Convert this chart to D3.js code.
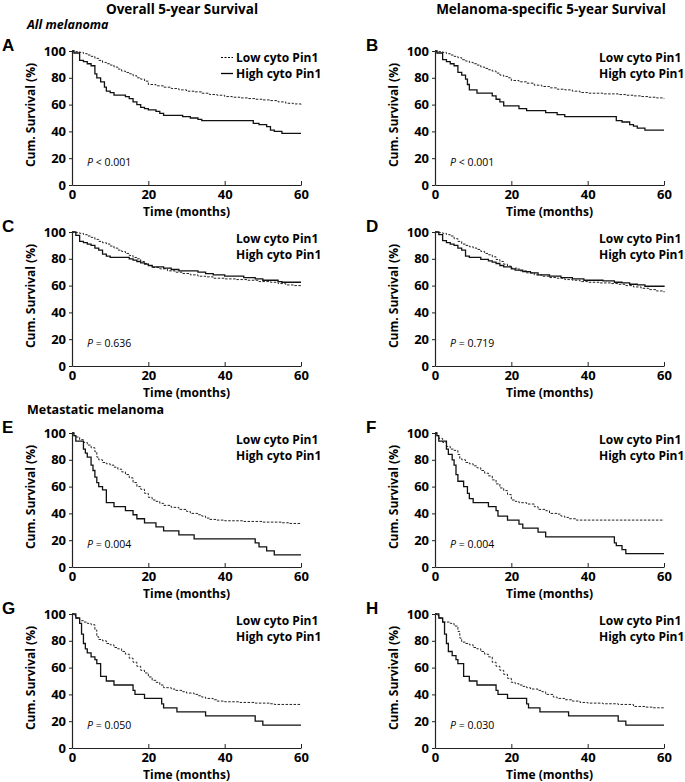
<!DOCTYPE html>
<html>
<head>
<meta charset="utf-8">
<script src="https://cdn.jsdelivr.net/npm/d3@7"></script>
<style>
  body { margin: 0; background: #fff; }
  svg text { font-family: "Open Sans", sans-serif; fill: #000; }
</style>
</head>
<body>
<script>
// axis ticks
const timeTicks = [0, 20, 40, 60];
const survTicks = [0, 20, 40, 60, 80, 100];

const panelLetters = ["A", "B", "C", "D", "E", "F", "G", "H"];
const pLabels = ["< 0.001", "< 0.001", "= 0.636", "= 0.719", "= 0.004", "= 0.004", "= 0.050", "= 0.030"];
const legendLabels = ["Low cyto Pin1", "High cyto Pin1"];
const columnTitles = ["Overall 5-year Survival", "Melanoma-specific 5-year Survival"];

// Kaplan-Meier steps: [time (months), cumulative survival (%)]
const lowA = [[0,100],[1,99.5],[2,99],[3,98],[4,97],[5,96],[6,94.5],[7,93],[8,91.5],[9,90.5],[10,89.5],[11,88],[12,86.5],[13,85],[14,84],[15,83],[16,81.5],[17,80],[18,79],[19,77.5],[20,75],[22,74],[24,73],[26,72],[28,71],[30,70],[32,69.5],[34,68.5],[36,67.5],[38,67],[40,66],[42,65.5],[44,65],[46,64.5],[48,64],[50,63.5],[52,63],[54,62],[56,61],[58,60.5],[60,60]];
const highA = [[0,100],[0.5,98.5],[2,93],[3,92],[4,90.5],[5,89],[6,83],[6.5,80],[7.5,77],[8.5,73],[9,70],[10,69],[11,67],[14,66],[15,64.5],[16,62],[17,60],[18,58],[19,57],[20,56],[22,55],[23,53.5],[24,52],[29,51],[31,50],[33,49],[34,48],[47,48],[47.5,46],[49,45],[51,43.5],[52,41],[53,40],[55,38.5],[60,38.5]];

const lowB = [[0,100],[1,99.5],[2,99],[3,98],[4,97],[5,96],[6,95],[7,93.5],[8,92.5],[9,91.5],[10,90.5],[11,89.5],[12,88],[13,87],[14,86],[15,85],[16,83.5],[17,82],[18,81],[19,80],[20,78],[22,77],[24,76],[26,74.5],[28,73.5],[30,72.5],[32,71.5],[34,71],[36,70],[38,69],[40,68.5],[44,68],[48,67.5],[50,67],[52,66.5],[54,66],[56,65.5],[58,65],[60,64.5]];
const highB = [[0,100],[0.5,98.5],[2,93.5],[3,92],[4,90.5],[5,89],[6,84],[7,82],[8,79],[8.5,75],[9,71],[11,68.5],[15,66.5],[16,64],[17,62],[18,59],[22,57],[24,55.5],[29,54],[32,52.5],[34,51],[47,51],[47.5,48],[49,47],[51,45],[52,44],[53,42.5],[55,41],[60,41]];

const lowC = [[0,100],[1,99.5],[2,99],[3,98],[4,97],[5,96],[6,94.5],[7,93],[8,92],[9,91],[10,89.5],[11,88],[12,86.5],[13,85.5],[14,84],[15,82.5],[16,81],[17,80],[18,78],[19,76.5],[20,75],[21,73.5],[23,72.5],[25,71],[27,70],[29,69],[31,68],[33,67],[35,66.5],[37,65.5],[40,65],[43,64.5],[46,64],[49,63],[52,62.5],[54,61.5],[56,60.5],[58,60],[60,59.5]];
const highC = [[0,100],[1,97.5],[2,93],[3,92],[4,91],[5,90],[6,88],[7,86.5],[8,83.5],[9,82],[10,81],[15,80],[16,79],[17,78],[18,77],[19,76],[20,75],[21,74],[24,73],[26,72],[28,71],[33,70],[35,69],[37,68],[40,67],[45,66],[48,65],[50,64],[54,63],[55,62.5],[60,62.5]];

const lowD = [[0,100],[1,99.5],[2,99],[3,98],[4,97],[5,95],[6,93],[7,91],[8,90],[9,89],[10,88],[11,87],[12,85.5],[13,84],[14,83],[15,81.5],[16,79.5],[17,78],[18,76],[19,74.5],[20,73],[22,71],[24,69.5],[26,68],[28,67],[30,66],[32,65.5],[34,64.5],[36,64],[38,63],[40,62.5],[43,62],[46,61.5],[48,61],[50,60],[52,59],[54,58],[56,57],[58,56],[60,55]];
const highD = [[0,100],[1,98],[2,93.5],[3,92],[4,91],[5,90],[6,88],[7,86.5],[8,82],[9,81],[12,79.5],[14,78.5],[15,77.5],[16,76.5],[17,75],[18,74],[20,72.5],[21,71.5],[23,70.5],[25,69.5],[27,68],[30,67],[33,66],[36,65],[39,64],[44,63.5],[47,62.5],[49,62],[51,61],[53,60.5],[55,59.5],[60,59]];

const lowE = [[0,100],[0.5,98],[1,97],[2,95],[3,93],[4,91],[5,89],[6,86],[6.5,82],[7,80],[8,78],[9,77],[10,76],[11,74.5],[12,73],[13,71],[14,69],[15,66.5],[16,63],[17,60],[18,58],[19,55],[20,52],[21,50],[22,49],[23,47.5],[24,46],[26,44.5],[28,43],[30,41.5],[31,40],[33,39],[34,38],[35,36.5],[36,35.5],[38,35],[40,34.5],[45,34],[50,33.5],[55,33],[57,32.5],[60,32.5]];
const highE = [[0,100],[0.5,98],[1,94],[3,88],[3.5,85],[4,82],[5,76],[5.5,72],[6,67],[6.5,63],[7,60],[8,57.5],[9,48],[11,45],[14,42],[16,39],[17,36],[19,33],[22,30],[24,27],[28,24],[32,21],[47,21],[48,18],[49,15],[51,12],[53,9],[60,9]];

const lowF = [[0,100],[0.5,98],[1,96],[2,93],[3,90],[4,88],[5,87],[6,84],[6.5,81],[7,80],[8,78],[9,77],[10,75.5],[11,74],[12,72],[13,70],[14,68],[15,65],[16,62],[17,59],[18,57],[19,54],[20,50],[21,49],[22,48],[24,47],[26,45],[27,43],[29,42],[30,40],[32,39.5],[33,38],[34,37],[35,36],[37,35],[60,35]];
const highF = [[0,100],[0.5,98],[1,94],[3,88],[3.5,84],[4.5,80],[5,76],[5.5,69],[6,64],[7.5,60],[8.5,55],[9,51],[10,48],[14,45],[16,42],[16.5,38],[19,35],[22,32],[23,29],[27,26],[29,22.5],[46.5,22.5],[47,18],[47.5,16],[49,13],[50,10],[60,10]];

const lowG = [[0,100],[0.5,99],[1,97],[2,95],[3,94],[4,93],[5,92],[6,88],[6.5,83],[7,81],[8,80],[9,78],[10,77],[11,75],[12,74],[13,72],[14,70],[15,67],[16,64],[17,61],[18,58],[19,56],[20,53],[21,50.5],[22,49],[23,47],[24,45],[26,44],[27,43],[29,42],[30,41],[32,40],[33,39],[34,38],[35,37],[37,36],[38,35],[40,34.5],[44,34],[48,33.5],[52,33],[53,32.5],[60,32.5]];
const highG = [[0,100],[1,97],[2,93],[2.5,85],[3,78],[3.5,74],[4,71],[5,68],[6,66],[6.5,63],[7.5,53.5],[9,50],[11,47],[16,43],[16.5,40],[19,37],[23.5,33],[24,30],[27.5,27],[35,24],[48,20],[50,17],[60,17]];

const lowH = [[0,100],[0.5,99],[1,97],[2,94],[4,93],[5,91],[6,87],[6.5,82],[7,79],[8,78],[9,77],[10,75],[11,74],[12,72],[13,70],[14,68],[15,64],[16,61],[17,58],[18,55],[19,52],[20,49],[21,48],[22,47],[23,46],[24,45],[25,44],[27,43],[28,42],[29,40],[31,38],[32,37],[34,36],[36,35],[38,34],[40,33.5],[44,33],[48,32.5],[52,31],[55,30.5],[57,30],[60,30]];
const highH = [[0,100],[1,97],[2,94],[2.5,85],[3,78],[3.5,72],[4.5,69],[5.5,66],[6,63],[7.5,53.5],[9,50],[11,47],[16,43],[16.5,40],[19,37],[24,33],[24.5,30],[27.5,27],[35,24],[48,20],[50,17],[60,17]];

const lowSeries = [lowA, lowB, lowC, lowD, lowE, lowF, lowG, lowH];
const highSeries = [highA, highB, highC, highD, highE, highF, highG, highH];

// layout
const W = 685, H = 782;
const colLeft = [72, 435];
const rowTop = [51, 232, 433, 614];
const plotW = 229, plotH = 134;

const svg = d3.select("body").append("svg")
	.attr("width", W).attr("height", H);

// column titles
columnTitles.forEach((t, i) => {
	svg.append("text")
		.attr("x", [182, 551][i]).attr("y", 14)
		.attr("text-anchor", "middle")
		.style("font-size", "13.5px").style("font-weight", "bold")
		.text(t);
});

svg.append("text").attr("x", 27).attr("y", 29)
	.style("font-size", "12.5px").style("font-weight", "bold").style("font-style", "italic")
	.text("All melanoma");
svg.append("text").attr("x", 27).attr("y", 414)
	.style("font-size", "12.5px").style("font-weight", "bold")
	.text("Metastatic melanoma");

const x = d3.scaleLinear().domain([0, 60]).range([0, plotW]);
const y = d3.scaleLinear().domain([0, 100]).range([plotH, 0]);
const line = d3.line()
	.x(d => x(d[0]))
	.y(d => y(d[1]))
	.curve(d3.curveStepAfter);

for (let i = 0; i < 8; i++) {
	const col = i % 2, row = Math.floor(i / 2);
	const g = svg.append("g")
		.attr("transform", `translate(${colLeft[col]},${rowTop[row]})`);

	// panel letter
	svg.append("text")
		.attr("x", col == 0 ? 2 : 366).attr("y", rowTop[row])
		.style("font-family", "'Liberation Sans', Arial, sans-serif")
		.style("font-size", "17px").style("font-weight", "bold")
		.text(panelLetters[i]);

	// curves
	g.append("path").datum(lowSeries[i])
		.attr("d", line)
		.attr("fill", "none").attr("stroke", "#222")
		.attr("stroke-width", 1).attr("stroke-dasharray", "2.5,1.5");
	g.append("path").datum(highSeries[i])
		.attr("d", line)
		.attr("fill", "none").attr("stroke", "#111")
		.attr("stroke-width", 1.3);

	// axes (x ticks point inward, y ticks outward)
	const xAxis = g.append("g").attr("transform", `translate(0,${plotH})`)
		.call(d3.axisBottom(x).tickValues(timeTicks).tickSizeInner(-4).tickSizeOuter(0).tickPadding(5));
	const yAxis = g.append("g")
		.call(d3.axisLeft(y).tickValues(survTicks).tickSizeInner(3).tickSizeOuter(0).tickPadding(3));
	[xAxis, yAxis].forEach(a => {
		a.select(".domain").attr("stroke", "#222").attr("stroke-width", 1.2);
		a.selectAll(".tick line").attr("stroke", "#222");
		a.selectAll("text")
			.style("font-family", "'Open Sans', sans-serif")
			.style("font-size", "13px").style("font-weight", "bold").attr("fill", "#000");
	});

	g.append("text")
		.attr("transform", `translate(-37,${plotH / 2 - 3}) rotate(-90)`)
		.attr("text-anchor", "middle")
		.style("font-size", "12px").style("font-weight", "bold")
		.text("Cum. Survival (%)");
	g.append("text")
		.attr("x", plotW / 2).attr("y", plotH + 31)
		.attr("text-anchor", "middle")
		.style("font-size", "12px").style("font-weight", "bold")
		.text("Time (months)");

	// legend
	legendLabels.forEach((lab, k) => {
		g.append("text")
			.attr("x", 164).attr("y", 11 + k * 16)
			.style("font-size", "12px").style("font-weight", "bold")
			.text(lab);
		if (i == 0) {
			g.append("line")
				.attr("x1", 149).attr("x2", 161)
				.attr("y1", 6.5 + k * 16).attr("y2", 6.5 + k * 16)
				.attr("stroke", "#000")
				.attr("stroke-width", k == 0 ? 1 : 1.3)
				.attr("stroke-dasharray", k == 0 ? "2,1.5" : null);
		}
	});

	// p value
	const pt = g.append("text")
		.attr("x", 15).attr("y", plotH - 19)
		.style("font-size", "10.5px");
	pt.append("tspan").style("font-style", "italic").text("P");
	pt.append("tspan").text(" " + pLabels[i]);
}
</script>
</body>
</html>
